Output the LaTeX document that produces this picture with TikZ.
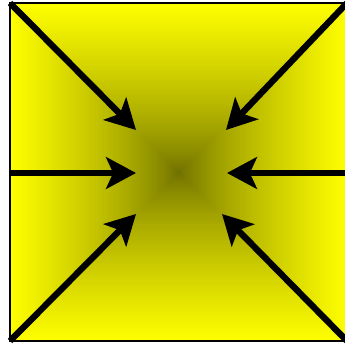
\documentclass[tikz,border=0pt]{standalone}
\usetikzlibrary{arrows.meta}
% square glow: dark in the middle, yellow at the rim
\pgfdeclarefunctionalshading{boxglow}{\pgfpoint{-50bp}{-50bp}}{\pgfpoint{50bp}{50bp}}{}{abs exch abs 2 copy lt {exch} if pop 25 div dup 1 gt {pop 1} if 0.75 exp 0.57 mul 0.43 add dup 0}
\tikzset{push/.style={line width=3.6pt,-{Stealth[length=17pt,width=18pt,inset=4pt]}}}
\begin{document}
\begin{tikzpicture}[x=0.02cm,y=-0.02cm]
\useasboundingbox (0,0) rectangle (345,344);
\shade[shading=boxglow] (10,3) rectangle (347,341);
\draw[line width=0.9pt] (10,3) rectangle (347,341);
\coordinate (nw) at (10,3);\coordinate (ne) at (347,3);
\coordinate (sw) at (10,341);\coordinate (se) at (347,341);
\coordinate (w) at (10,173);\coordinate (e) at (347,173);
\coordinate (tnw) at (136,130);\coordinate (tne) at (226,130);
\coordinate (tsw) at (136,214);\coordinate (tse) at (222,214);
\coordinate (tw) at (136,173);\coordinate (te) at (227,173);
\draw[push] (nw)--(tnw);\draw[push] (ne)--(tne);
\draw[push] (w)--(tw);\draw[push] (e)--(te);
\draw[push] (sw)--(tsw);\draw[push] (se)--(tse);
\end{tikzpicture}
\end{document}
